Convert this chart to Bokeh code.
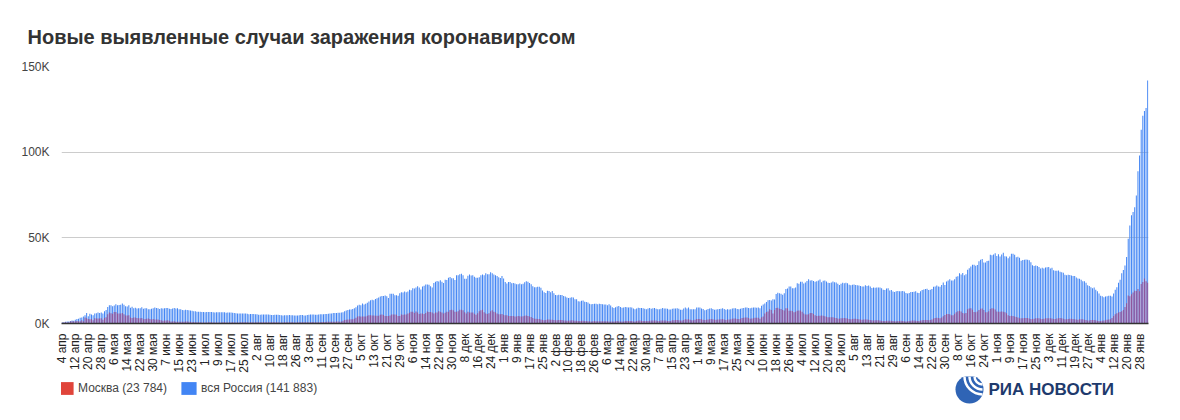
import math
from datetime import date, timedelta
from bokeh.plotting import figure
from bokeh.models import (FixedTicker, Legend, LegendItem, ColumnDataSource,
                          Range1d, Label)
from bokeh.layouts import column
from bokeh.embed import file_html
from bokeh.resources import INLINE

# ---------------- data: daily new cases, 4 Apr 2020 .. 2 Feb 2022 ----------------
ru_2020_04 = [582, 658, 954, 1154, 1175, 1459, 1786, 1667, 2186, 2558, 2774, 3388, 3448, 4070, 4785, 6060, 4268, 5642, 5236, 4774, 5849, 5966, 6361, 6198, 6411, 5841, 7099]
ru_2020_05 = [7933, 9623, 10633, 10581, 10102, 10559, 11231, 10699, 10817, 11012, 11656, 10899, 10028, 9974, 10598, 9200, 9709, 8926, 9263, 8764, 8849, 8894, 9434, 8599, 8946, 8915, 8338, 8371, 8572, 8952, 9268]
ru_2020_06 = [9035, 8863, 8536, 8831, 8726, 8855, 8984, 8985, 8595, 8404, 8779, 8987, 8706, 8835, 8246, 8248, 7843, 7790, 7972, 7889, 7728, 7600, 7425, 7176, 7113, 6800, 6852, 6791, 6719, 6693]
ru_2020_07 = [6556, 6760, 6718, 6736, 6736, 6611, 6368, 6562, 6509, 6635, 6611, 6615, 6537, 6248, 6422, 6428, 6406, 6234, 6109, 5940, 5842, 5862, 5811, 5848, 5871, 5765, 5635, 5395, 5475, 5509, 5482]
ru_2020_08 = [5462, 5427, 5159, 5159, 5204, 5267, 5241, 5212, 5189, 5118, 4945, 4892, 5102, 5065, 5061, 4969, 4839, 4718, 4748, 4767, 4870, 4921, 4852, 4852, 4696, 4676, 4711, 4829, 4980, 4897, 4729]
ru_2020_09 = [4729, 4952, 5110, 5185, 5195, 5205, 5099, 5099, 5218, 5363, 5449, 5406, 5509, 5572, 5670, 5816, 5905, 6065, 6148, 6196, 6234, 6215, 6431, 6595, 7212, 7523, 7867, 8135, 8232, 8481]
ru_2020_10 = [8945, 9412, 10499, 10888, 10598, 11615, 11115, 11493, 12126, 12846, 13634, 13868, 13592, 14231, 14736, 15150, 15700, 15982, 15982, 16319, 15971, 14852, 17340, 17347, 17347, 16550, 16521, 16202, 17717, 18283, 18140]
ru_2020_11 = [18665, 18257, 18648, 19768, 19404, 20582, 20498, 20977, 21798, 20977, 19851, 21608, 21983, 22702, 22778, 22572, 21798, 20977, 23610, 24318, 24822, 24581, 25173, 24326, 23675, 25487, 25345, 26683, 27100, 26338]
ru_2020_12 = [26402, 25345, 28145, 28209, 28782, 29039, 28137, 26097, 26190, 27927, 28585, 28080, 28137, 27328, 26689, 26689, 27039, 28214, 28552, 28209, 29350, 28776, 28775, 29935, 29258, 28552, 28137, 27787, 27039, 26513, 27747]
ru_2021_01 = [26301, 24150, 23351, 24246, 24217, 23541, 23652, 23309, 22851, 22934, 23315, 22857, 23256, 24092, 24715, 24318, 23586, 22857, 21734, 21152, 21127, 21513, 21513, 20921, 19290, 18241, 17741, 19138, 19032, 18241, 19032]
ru_2021_02 = [17648, 16643, 16474, 16714, 16688, 16627, 16048, 15803, 15133, 14928, 15038, 15321, 15148, 14185, 14207, 12953, 12828, 13233, 13443, 12742, 12604, 12201, 11534, 11198, 11359, 11508, 11531, 11249]
ru_2021_03 = [11571, 11385, 11194, 11024, 11022, 10595, 11198, 10535, 9445, 9079, 9437, 9908, 10280, 9632, 9149, 9393, 9634, 9451, 9299, 9445, 9299, 8715, 8369, 8769, 9128, 9073, 9088, 8885, 8662, 8277, 8792]
ru_2021_04 = [9016, 8672, 8885, 9073, 8646, 8294, 8328, 8634, 8996, 8810, 8702, 8589, 8173, 8173, 8558, 8744, 8711, 8835, 8632, 8089, 8057, 8807, 9270, 8780, 9321, 8367, 8271, 8327, 8341, 9284]
ru_2021_05 = [9270, 9328, 8697, 8419, 7770, 7972, 8419, 8697, 8926, 8400, 7975, 8217, 8380, 8465, 8554, 8896, 8505, 7975, 8329, 8217, 8380, 8785, 8951, 8951, 8489, 8373, 8553, 8947, 9068, 9268, 9332]
ru_2021_06 = [9022, 8947, 9145, 9289, 9316, 9252, 9327, 8951, 10407, 11058, 11699, 12505, 13510, 13721, 13397, 14185, 14057, 17262, 17906, 17611, 17378, 16715, 17594, 20182, 20393, 21665, 21650, 20538, 20616, 21042]
ru_2021_07 = [23543, 23218, 24439, 24353, 23378, 23962, 24818, 25766, 25082, 25293, 24792, 24439, 24702, 25116, 25704, 24072, 25018, 25033, 24471, 23811, 23704, 23947, 24471, 24072, 23947, 23239, 22420, 23270, 23811, 23564, 23807]
ru_2021_08 = [23508, 22589, 22336, 22589, 22804, 22498, 22277, 22144, 21932, 21571, 21571, 22277, 21932, 22144, 21624, 20765, 20958, 20914, 21058, 21000, 20992, 20564, 19630, 19509, 20466, 20616, 19286, 19509, 18645, 18325, 18780]
ru_2021_09 = [18985, 18856, 18780, 18985, 18696, 17856, 17525, 17837, 18341, 18380, 18493, 18841, 17896, 17873, 18841, 19594, 19905, 20174, 20329, 19594, 19706, 20174, 21379, 21559, 22236, 21650, 21438, 22430, 23888, 22430]
ru_2021_10 = [24522, 25133, 25781, 25110, 25133, 25781, 27246, 27550, 29362, 28647, 29409, 28190, 28717, 31299, 32196, 33208, 34303, 34325, 33740, 34073, 36339, 37141, 37678, 35660, 35660, 36446, 36582, 40096, 39849, 40251, 40993]
ru_2021_11 = [39400, 40402, 39160, 40217, 41335, 39256, 39165, 38058, 39160, 40759, 40759, 40123, 38695, 39008, 38420, 36626, 37120, 37156, 37374, 37200, 36970, 35681, 33996, 33558, 33860, 33558, 32930, 32136, 32602, 32136]
ru_2021_12 = [32648, 32822, 32930, 32136, 32602, 31096, 30752, 30752, 30873, 30209, 29948, 29558, 28486, 28160, 28486, 28363, 28054, 27743, 27743, 26821, 26226, 26140, 25567, 24702, 24703, 23721, 22351, 21922, 21155, 20564, 21073]
ru_2022_01 = [19751, 18787, 17525, 16146, 15907, 15316, 15830, 15916, 16246, 16131, 15830, 17525, 19751, 21155, 23820, 25487, 29386, 31252, 33899, 38850, 49513, 57212, 63205, 65109, 67809, 74692, 88816, 98040, 113122, 121228, 124070]
ru_2022_02 = [125836, 141883]

mo_2020_04 = [434, 536, 697, 591, 660, 1124, 1306, 1124, 1355, 1489, 1355, 1370, 1959, 1370, 3570, 3083, 2649, 2548, 2612, 1958, 3083, 2971, 2859, 2871, 3075, 2220, 3236]
mo_2020_05 = [3712, 5358, 6418, 5948, 5714, 6703, 6703, 5846, 5858, 5795, 6169, 5392, 4703, 4712, 4748, 3505, 3238, 3555, 3545, 3190, 3029, 2995, 3146, 2516, 2638, 2830, 2913, 2570, 2368, 2595, 2385]
mo_2020_06 = [2286, 2297, 2014, 1842, 1556, 1734, 1717, 1837, 1572, 1195, 1194, 1364, 1058, 1057, 1057, 1006, 1004, 1056, 1162, 1167, 1076, 999, 797, 897, 737, 681, 752, 691, 625, 551]
mo_2020_07 = [646, 654, 709, 708, 704, 623, 617, 636, 648, 642, 629, 657, 659, 621, 639, 658, 643, 671, 640, 593, 600, 598, 660, 670, 685, 666, 671, 641, 669, 691, 654]
mo_2020_08 = [690, 695, 687, 674, 690, 680, 687, 689, 680, 660, 668, 669, 664, 681, 663, 654, 643, 634, 670, 693, 690, 703, 688, 684, 649, 650, 675, 714, 721, 698, 694]
mo_2020_09 = [682, 703, 722, 755, 814, 766, 748, 747, 734, 748, 806, 826, 933, 959, 1051, 1050, 1050, 1000, 1062, 1226, 1218, 1049, 1167, 1560, 2016, 2217, 2306, 2389, 2424, 2455]
mo_2020_10 = [2704, 3327, 4082, 4200, 4102, 4123, 4128, 4082, 4541, 4861, 4851, 4601, 4617, 4570, 4480, 4541, 5049, 5209, 5005, 4425, 4391, 4425, 4731, 5224, 5261, 5213, 5059, 4431, 4316, 5268, 5138]
mo_2020_11 = [5224, 5267, 5902, 6253, 6902, 6900, 6075, 6953, 6437, 5482, 5902, 5902, 5582, 6075, 6953, 6709, 6709, 6427, 5882, 6368, 6491, 7168, 6897, 6438, 5902, 6253, 6902, 6900, 7918, 7993]
mo_2020_12 = [7750, 6868, 6868, 7168, 7993, 7993, 7750, 6524, 5892, 6868, 6362, 6425, 6427, 5620, 5155, 6013, 7215, 7750, 7993, 6524, 5892, 5500, 6013, 7215, 7750, 6800, 6524, 5892, 5450, 5346, 5540]
mo_2021_01 = [5102, 4880, 4790, 4400, 4400, 4340, 4410, 4150, 4148, 4350, 4210, 4057, 4206, 4530, 4680, 4370, 4155, 3753, 3180, 2730, 2722, 2680, 2564, 2380, 2082, 1943, 2030, 2300, 2291, 2200, 2134]
mo_2021_02 = [2015, 1949, 1845, 2011, 2035, 1990, 1823, 1752, 1647, 1650, 1784, 1833, 1768, 1601, 1534, 1510, 1504, 1550, 1562, 1520, 1441, 1328, 1265, 1215, 1320, 1426, 1360, 1290]
mo_2021_03 = [1244, 1246, 1262, 1295, 1356, 1328, 1217, 1163, 1153, 1096, 1295, 1400, 1305, 1201, 1193, 1170, 1450, 1390, 1390, 1458, 1390, 1199, 1206, 1423, 1664, 1732, 1668, 1532, 1444, 1390, 1523]
mo_2021_04 = [1606, 1710, 1773, 1706, 1680, 1480, 1500, 1690, 1773, 1806, 1733, 1503, 1400, 1495, 1830, 1945, 2007, 2100, 1883, 1760, 1694, 2080, 2408, 2318, 2418, 2205, 1833, 1900, 2130, 2564]
mo_2021_05 = [2558, 2612, 2408, 2236, 2089, 2118, 2342, 2463, 2606, 2468, 2186, 2233, 2363, 2405, 2438, 2602, 2381, 2061, 2278, 2347, 2535, 2703, 2980, 2964, 2626, 2589, 2802, 3183, 3362, 3516, 3488]
mo_2021_06 = [3157, 2767, 2974, 3062, 3379, 3323, 3326, 2844, 3701, 4124, 5782, 6701, 6938, 8313, 7904, 5782, 7921, 9056, 9120, 8598, 8404, 7916, 7597, 8933, 8900, 7446, 7484, 7346, 6557, 6893]
mo_2021_07 = [7446, 7597, 7526, 6904, 5805, 5300, 5282, 5330, 6175, 6163, 5580, 4883, 4305, 4530, 4570, 4635, 4532, 4292, 3909, 3589, 3596, 3633, 3670, 3400, 3159, 2898, 2807, 3126, 3128, 3186, 3100]
mo_2021_08 = [2896, 2566, 2548, 2691, 2729, 2727, 2654, 2454, 2286, 2140, 2298, 2352, 2336, 2219, 2032, 1829, 1786, 1855, 1929, 1879, 1736, 1624, 1475, 1505, 1610, 1677, 1655, 1580, 1439, 1298, 1365]
mo_2021_09 = [1469, 1531, 1556, 1512, 1385, 1232, 1241, 1447, 1595, 1754, 1728, 1617, 1422, 1495, 1745, 1934, 2017, 2031, 1980, 1897, 1996, 2398, 2886, 3185, 3329, 3143, 3059, 3455, 4202, 5002]
mo_2021_10 = [5525, 5564, 5436, 4867, 4800, 5618, 6569, 7096, 7444, 6956, 6147, 5766, 6169, 8267, 8825, 8860, 8003, 6768, 6545, 7061, 7881, 8620, 8805, 7912, 6512, 6547, 7112, 8484, 8924, 8820, 8160]
mo_2021_11 = [6978, 6855, 6807, 6998, 6894, 6532, 5930, 4793, 4385, 4536, 4450, 4100, 3807, 3545, 3108, 3011, 3104, 3199, 3242, 3151, 2885, 2600, 2613, 2844, 3053, 3122, 3046, 2842, 2593, 2781]
mo_2021_12 = [3059, 3085, 3133, 3000, 2861, 2641, 2629, 2917, 3097, 3180, 3083, 2806, 2505, 2461, 2688, 2814, 2826, 2629, 2475, 2270, 2252, 2522, 2550, 2439, 2241, 1999, 1703, 1796, 1987, 1983, 2095]
mo_2022_01 = [1884, 1598, 1521, 1504, 1652, 1684, 1886, 2170, 2270, 2440, 3175, 4329, 5337, 5973, 6398, 6738, 7090, 7826, 9611, 11762, 16360, 15893, 17120, 18041, 19052, 18941, 20180, 18832, 23045, 24245, 26240]
mo_2022_02 = [24617, 23784]

series_names = ["Москва (23 784)", "вся Россия (141 883)"]
month_names = ["янв", "фев", "мар", "апр", "мая", "июн", "июл", "авг", "сен", "окт", "ноя", "дек"]
y_ticks = [0, 50000, 100000, 150000]
y_tick_labels = ["0K", "50K", "100K", "150K"]
title_text = "Новые выявленные случаи заражения коронавирусом"
logo_text = "РИА НОВОСТИ"
start_day = date(2020, 4, 4)

russia = (ru_2020_04 + ru_2020_05 + ru_2020_06 + ru_2020_07 + ru_2020_08 + ru_2020_09 +
          ru_2020_10 + ru_2020_11 + ru_2020_12 + ru_2021_01 + ru_2021_02 + ru_2021_03 +
          ru_2021_04 + ru_2021_05 + ru_2021_06 + ru_2021_07 + ru_2021_08 + ru_2021_09 +
          ru_2021_10 + ru_2021_11 + ru_2021_12 + ru_2022_01 + ru_2022_02)
moscow = (mo_2020_04 + mo_2020_05 + mo_2020_06 + mo_2020_07 + mo_2020_08 + mo_2020_09 +
          mo_2020_10 + mo_2020_11 + mo_2020_12 + mo_2021_01 + mo_2021_02 + mo_2021_03 +
          mo_2021_04 + mo_2021_05 + mo_2021_06 + mo_2021_07 + mo_2021_08 + mo_2021_09 +
          mo_2021_10 + mo_2021_11 + mo_2021_12 + mo_2022_01 + mo_2022_02)

n = min(len(russia), len(moscow))
russia = russia[:n]
moscow = moscow[:n]
days = list(range(n))
tick_idx = list(range(0, n, 8))
tick_dates = [start_day + timedelta(days=i) for i in tick_idx]
tick_labels = [f"{d.day} {month_names[d.month - 1]}" for d in tick_dates]

BLUE = "#4285f4"
RED = "#e0443a"
OVERLAP = "#935499"
FONT = "Liberation Sans"

W = 1180
LEFT, RIGHT = 61, 32

# ---------------- main chart ----------------
p = figure(width=W, height=376, x_range=Range1d(-0.5, n - 0.5),
           y_range=Range1d(0, 150000), output_backend="svg", toolbar_location=None,
           min_border_left=LEFT, min_border_right=RIGHT, min_border_top=66, min_border_bottom=53)
p.outline_line_color = None
p.background_fill_color = "white"
p.border_fill_color = "white"

p.title.text = title_text
p.title.text_font = FONT
p.title.text_font_size = "20px"
p.title.text_font_style = "bold"
p.title.text_color = "#333333"
p.title.offset = -34
p.title.standoff = 38

src = ColumnDataSource(dict(x=days, ru=russia, mo=moscow))
p.vbar(x="x", top="ru", width=0.62, source=src, fill_color=BLUE, line_color=None)
p.vbar(x="x", top="mo", width=0.62, source=src, fill_color=OVERLAP, line_color=None)

xa = p.xaxis[0]
xa.ticker = FixedTicker(ticks=tick_idx)
xa.major_label_overrides = {i: lab for i, lab in zip(tick_idx, tick_labels)}
xa.major_label_orientation = math.pi / 2
xa.major_tick_line_color = None
xa.minor_tick_line_color = None
xa.axis_line_color = "#333333"
xa.axis_line_width = 1.5
xa.major_label_text_font = FONT
xa.major_label_text_font_size = "12px"
xa.major_label_text_color = "#222222"
xa.major_label_standoff = 4

ya = p.yaxis[0]
ya.ticker = FixedTicker(ticks=y_ticks)
ya.major_label_overrides = {v: lab for v, lab in zip(y_ticks, y_tick_labels)}
ya.axis_line_color = None
ya.major_tick_line_color = None
ya.minor_tick_line_color = None
ya.major_label_text_font = FONT
ya.major_label_text_font_size = "12px"
ya.major_label_text_color = "#444444"
ya.major_label_standoff = 6

p.xgrid.visible = False
p.ygrid.ticker = FixedTicker(ticks=y_ticks)
p.ygrid.grid_line_color = "#cccccc"

# ---------------- legend + logo strip (x in page pixels) ----------------
p2 = figure(width=W, height=44, x_range=Range1d(LEFT, W - RIGHT), y_range=Range1d(0, 44),
            output_backend="svg", toolbar_location=None,
            min_border_left=LEFT, min_border_right=RIGHT, min_border_top=0, min_border_bottom=0,
            x_axis_location=None, y_axis_location=None)
p2.grid.visible = False
p2.outline_line_color = None
p2.background_fill_color = "white"
p2.border_fill_color = "white"

# legend swatch renderers (their single box lies outside the visible range)
r_mo = p2.quad(left=[0], right=[1], top=[-20], bottom=[-30], fill_color=RED, line_color=None)
r_ru = p2.quad(left=[0], right=[1], top=[-20], bottom=[-30], fill_color=BLUE, line_color=None)
legend = Legend(items=[LegendItem(label=series_names[0], renderers=[r_mo]),
                       LegendItem(label=series_names[1], renderers=[r_ru])],
                orientation="horizontal", location=(-5, 24), padding=0, margin=0,
                spacing=12, glyph_width=19, glyph_height=16, label_height=16,
                label_standoff=3, border_line_color=None, background_fill_alpha=0,
                label_text_font=FONT, label_text_font_size="12px",
                label_text_color="#444444")
p2.add_layout(legend)

# RIA Novosti logo
p2.scatter(x=[969], y=[31], size=28, marker="circle", fill_color="#2f64b5", line_color=None)
p2.arc(x=[982, 982, 982], y=[44, 44, 44], radius=[8, 13, 18], start_angle=math.pi,
       end_angle=1.5 * math.pi, line_color="white", line_width=2.5)
p2.add_layout(Label(x=988, y=31, text=logo_text, text_font=FONT, text_font_size="17px",
                    text_font_style="bold", text_color="#1e3a6d", text_baseline="middle"))

layout = column(p, p2, spacing=0)
open("out.html", "w").write(file_html(layout, INLINE))
